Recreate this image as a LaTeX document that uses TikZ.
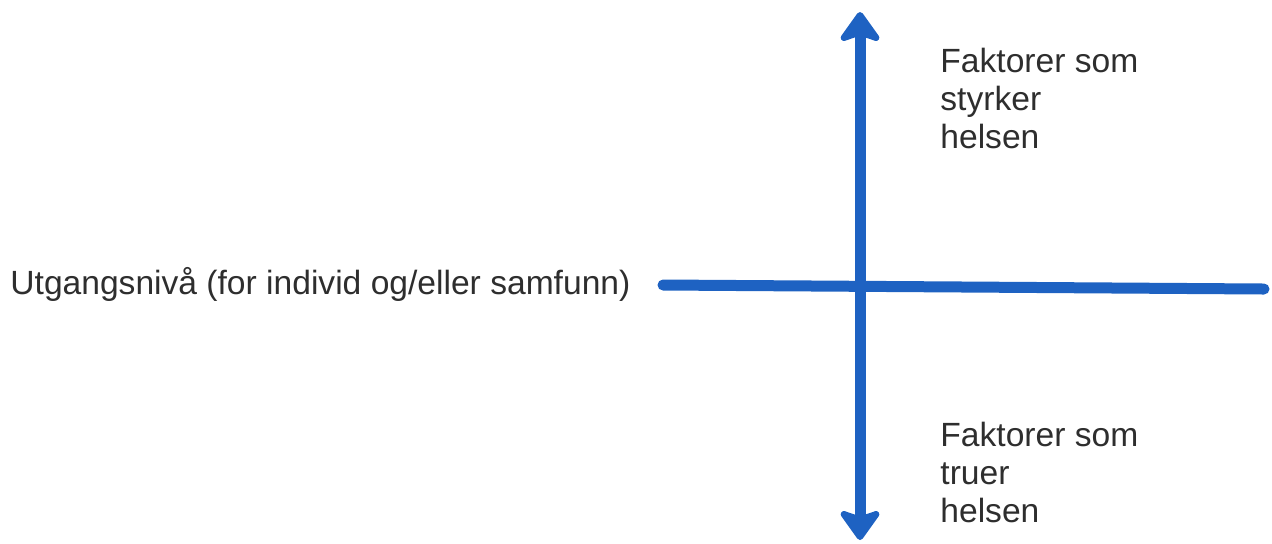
\documentclass[tikz,border=0pt]{standalone}
\usepackage{fontspec}
\setmainfont{Liberation Sans}
\usepackage{xcolor}
\definecolor{cAxis}{HTML}{1E62C2}
\definecolor{cText}{HTML}{2E2E2E}
\usetikzlibrary{arrows.meta}
\tikzset{
  axis-line/.style={draw=cAxis,line width=5.5pt,line cap=round},
  axis-arrow/.style={axis-line,{Stealth[length=17pt,width=24pt,inset=4pt,round]}-{Stealth[length=17pt,width=24pt,inset=4pt,round]}},
  label-text/.style={text=cText,font=\fontsize{16.8pt}{18.8pt}\selectfont,
    inner sep=0pt,align=left},
}
\begin{document}
\begin{tikzpicture}[x=0.5pt,y=-0.5pt]
  \useasboundingbox (0,0) rectangle (1272,543);
  \coordinate (top)    at (860,12);
  \coordinate (bottom) at (860,540);
  \coordinate (left)   at (663,285);
  \coordinate (right)  at (1264,289);
  \draw[axis-line]  (left) -- (right);
  \draw[axis-arrow] (bottom) -- (top);
  \node[label-text,anchor=base west] (base)  at (10,294)  {Utgangsnivå (for individ og/eller samfunn)};
  % base anchor of a multi-line node sits on its last line
  \node[label-text,anchor=base west] (plus)  at (940,148) {Faktorer som\\styrker\\helsen};
  \node[label-text,anchor=base west] (minus) at (940,522) {Faktorer som\\truer\\helsen};
\end{tikzpicture}
\end{document}
